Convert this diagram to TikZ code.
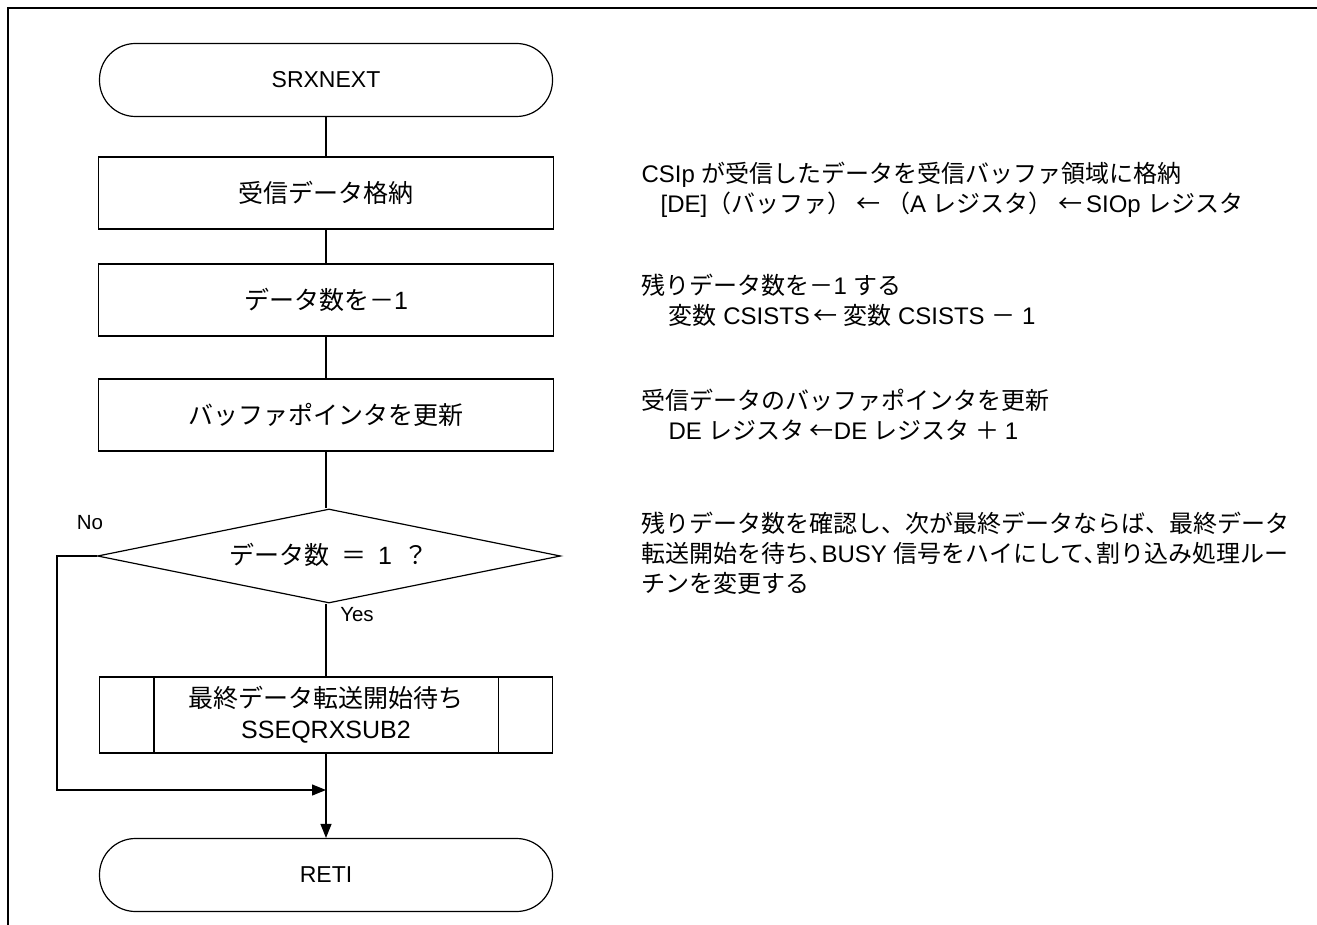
\documentclass[tikz,border=0pt]{standalone}
\usepackage{fontspec}
\setmainfont{Liberation Sans}
\newfontfamily\jp{Noto Sans CJK JP}
\usetikzlibrary{shapes.geometric,arrows.meta}
\begin{document}
\begin{tikzpicture}[x=1pt,y=-1pt,line width=1.2pt,
  term/.style={draw,rectangle,rounded corners=36pt,minimum width=453pt,minimum height=73pt,inner sep=0pt,font=\fontsize{23}{27}\selectfont},
  proc/.style={draw,rectangle,minimum width=455pt,minimum height=72pt,inner sep=0pt,font=\fontsize{25}{29}\selectfont},
  dec/.style={draw,diamond,minimum width=463pt,minimum height=94pt,inner sep=0pt,font=\fontsize{25}{29}\selectfont},
  subp/.style={draw,rectangle,minimum width=453pt,minimum height=76pt,inner sep=0pt,align=center,font=\fontsize{25}{31}\selectfont},
  note/.style={anchor=west,align=left,inner sep=0pt,font=\fontsize{24}{30}\selectfont},
  lab/.style={inner sep=0pt,font=\fontsize{20.5}{24}\selectfont},
  arr/.style={-{Triangle[length=14pt,width=11pt]}}]
\useasboundingbox (0,0) rectangle (1317,925);
\draw[line width=2.5pt] (8,925) -- (8,8) -- (1317,8);
% flow
\node[term] (start) at (326,80) {SRXNEXT};
\node[proc] (p1) at (326,193) {\jp 受信データ格納};
\node[proc] (p2) at (326,300) {{\jp データ数を－}1};
\node[proc] (p3) at (326,415) {\jp バッファポインタを更新};
\node[dec] (d) at (329,556) {\smash{\raisebox{-8pt}{\makebox[0pt]{{\jp データ数}\hspace{12pt}{\jp ＝}\hspace{12pt}1\hspace{12pt}{\jp ？}}}}};
\node[subp] (s) at (326,715) {{\jp 最終データ転送開始待ち}\\SSEQRXSUB2};
\node[term] (end) at (326,875) {RETI};
\coordinate (m) at (326,790);
\coordinate (nl) at (57,556);
\draw ([xshift=55pt]s.north west) -- ([xshift=55pt]s.south west);
\draw ([xshift=-55pt]s.north east) -- ([xshift=-55pt]s.south east);
\draw (start) -- (p1);
\draw (p1) -- (p2);
\draw (p2) -- (p3);
\draw (p3) -- (p3 |- d.north);
\draw (p3 |- d.south) -- (s);
\draw[arr] (s) -- (end);
\draw[arr] (d.west) -- (nl) |- (m);
\node[lab] (no) at (90,523) {No};
\node[lab] (yes) at (357,615) {Yes};
% notes
\node[note] (n1) at (641,190) {CSIp {\jp が受信したデータを受信バッファ領域に格納}\\
\hspace*{19pt}[DE]{\jp （バッファ）\ ←\ （}A {\jp レジスタ）\ ←\,}SIOp {\jp レジスタ}};
\node[note] (n2) at (641,300) {{\jp 残りデータ数を－}1 {\jp する}\\
\hspace*{27pt}{\jp 変数} CSISTS\,{\jp ←\ 変数} CSISTS\ {\jp －}\ 1};
\node[note] (n3) at (641,415) {{\jp 受信データのバッファポインタを更新}\\
\hspace*{27pt}DE {\jp レジスタ\ ←}DE {\jp レジスタ\ ＋\ }1};
\node[note] (n4) at (641,553) {{\jp 残りデータ数を確認し、次が最終データならば、最終データ}\\
{\jp 転送開始を待ち､}BUSY {\jp 信号をハイにして､割り込み処理ルー}\\
{\jp チンを変更する}};
\end{tikzpicture}
\end{document}
